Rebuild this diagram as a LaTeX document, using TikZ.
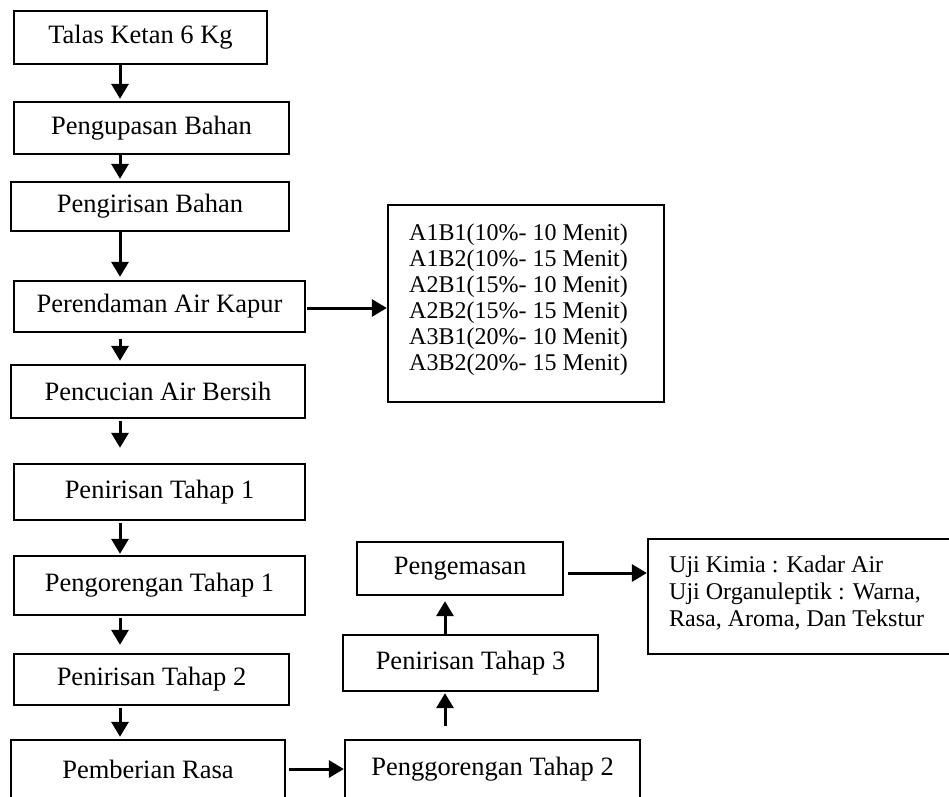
\documentclass[tikz,border=0pt]{standalone}
\usepackage{fontspec}
\setmainfont{Liberation Serif}
\usepackage{tikz}
\usetikzlibrary{arrows.meta}
\usetikzlibrary{positioning}

\tikzset{
  box/.style={draw,rectangle,line width=2.3pt,inner sep=0pt,font=\fontsize{26.5}{30}\selectfont},
  notes/.style={align=left,inner sep=0pt,anchor=base west},
  flow/.style={draw,line width=3pt,-{Triangle[length=15pt,width=17pt]}},
}

\begin{document}
\begin{tikzpicture}[x=1pt,y=-1pt]

  \useasboundingbox (0,0) rectangle (949,796);
  \fill [white] (0,0) rectangle (949,796);

  \node [box,minimum width=253pt,minimum height=53pt] (talas)    at (140.5,37.5)  {Talas Ketan 6 Kg};
  \node [box,minimum width=275pt,minimum height=52pt] (kupas)    at (151.5,128)   {Pengupasan Bahan};
  \node [box,minimum width=278pt,minimum height=49pt] (iris)     at (150,206.5)   {Pengirisan Bahan};
  \node [box,minimum width=291pt,minimum height=51pt] (rendam)   at (159.5,306.5) {Perendaman Air Kapur};
  \node [box,minimum width=294pt,minimum height=53pt] (cuci)     at (158,391.5)   {Pencucian Air Bersih};
  \node [box,minimum width=291pt,minimum height=56pt] (tiris_1)  at (159.5,492)   {Penirisan Tahap 1};
  \node [box,minimum width=291pt,minimum height=59pt] (goreng_1) at (159.5,585.5) {Pengorengan Tahap 1};
  \node [box,minimum width=275pt,minimum height=51pt] (tiris_2)  at (151.5,679.5) {Penirisan Tahap 2};
  \node [box,minimum width=274pt,minimum height=58pt] (rasa)     at (148,769)     {Pemberian Rasa};
  \node [box,minimum width=295pt,minimum height=58pt] (goreng_2) at (492.5,769)   {Penggorengan Tahap 2};
  \node [box,minimum width=255pt,minimum height=56pt] (tiris_3)  at (470.5,663)   {Penirisan Tahap 3};
  \node [box,minimum width=206pt,minimum height=53pt] (kemas)    at (460,568.5)   {Pengemasan};

  % last baseline of each note block
  \node [box,minimum width=276pt,minimum height=197pt] (perlakuan) at (526,303.5) {};
  \node [notes,font=\fontsize{24}{26}\selectfont] (perlakuan_teks) at (409,370)
    {A1B1(10\%- 10 Menit)\\A1B2(10\%- 15 Menit)\\A2B1(15\%- 10 Menit)\\A2B2(15\%- 15 Menit)\\A3B1(20\%- 10 Menit)\\A3B2(20\%- 15 Menit)};

  \node [box,minimum width=314pt,minimum height=115pt] (uji) at (805,596.5) {};
  \node [notes,font=\fontsize{24}{27}\selectfont] (uji_teks) at (669,626)
    {Uji Kimia : Kadar Air\\Uji Organuleptik : Warna,\\Rasa, Aroma, Dan Tekstur};

  \coordinate (down_axis) at (120,0);
  \coordinate (up_axis)   at (445,0);

  \path
    (talas.south -| down_axis)    edge [flow,shorten >=2pt]                (kupas.north -| down_axis)
    (kupas.south -| down_axis)    edge [flow,shorten >=2pt]                (iris.north -| down_axis)
    (iris.south -| down_axis)     edge [flow,shorten >=3pt]                (rendam.north -| down_axis)
    (rendam.south -| down_axis)   edge [flow,shorten <=6pt,shorten >=3pt]  (cuci.north -| down_axis)
    (cuci.south -| down_axis)     edge [flow,shorten <=2pt,shorten >=15pt] (tiris_1.north -| down_axis)
    (tiris_1.south -| down_axis)  edge [flow,shorten <=2pt,shorten >=1pt]  (goreng_1.north -| down_axis)
    (goreng_1.south -| down_axis) edge [flow,shorten <=2pt,shorten >=8pt]  (tiris_2.north -| down_axis)
    (tiris_2.south -| down_axis)  edge [flow,shorten <=2pt,shorten >=2pt]  (rasa.north -| down_axis)
    ([yshift=-1.5pt]rendam.east)  edge [flow,shorten <=1pt]                ([yshift=-1.5pt]rendam.east -| perlakuan.west)
    (rasa.east)                   edge [flow,shorten <=3pt]                (rasa.east -| goreng_2.west)
    (goreng_2.north -| up_axis)   edge [flow,shorten <=13pt,shorten >=1pt] (tiris_3.south -| up_axis)
    (tiris_3.north -| up_axis)    edge [flow,shorten >=5pt]                (kemas.south -| up_axis)
    ([yshift=-4.5pt]kemas.east)   edge [flow,shorten <=4pt]                ([yshift=-4.5pt]kemas.east -| uji.west);

\end{tikzpicture}
\end{document}
